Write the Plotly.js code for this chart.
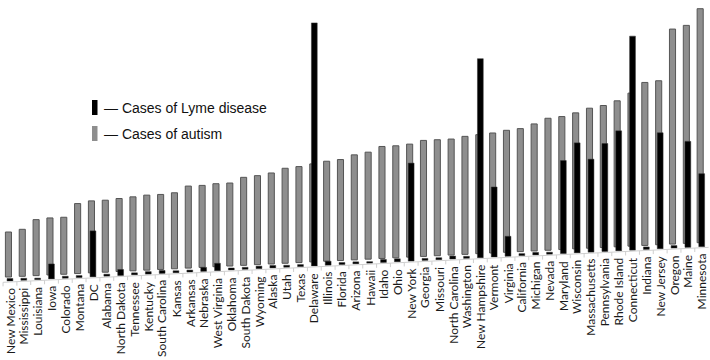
<!DOCTYPE html>
<html>
<head>
<meta charset="utf-8">
<script src="https://cdn.plot.ly/plotly-3.0.1.min.js"></script>
<style>html,body{margin:0;padding:0;background:#fff}#chart{width:710px;height:360px}</style>
</head>
<body>
<div id="chart"></div>
<script>
// States ordered by cases of autism (ascending)
const states = ["New Mexico","Mississippi","Louisiana","Iowa","Colorado","Montana","DC","Alabama","North Dakota","Tennessee","Kentucky","South Carolina","Kansas","Arkansas","Nebraska","West Virginia","Oklahoma","South Dakota","Wyoming","Alaska","Utah","Texas","Delaware","Illinois","Florida","Arizona","Hawaii","Idaho","Ohio","New York","Georgia","Missouri","North Carolina","Washington","New Hampshire","Vermont","Virginia","California","Michigan","Nevada","Maryland","Wisconsin","Massachusetts","Pennsylvania","Rhode Island","Connecticut","Indiana","New Jersey","Oregon","Maine","Minnesota"];

// Relative bar heights (no value axis in the original)
const autismCases = [45,47,56,57,57,70,72,72,73,74,75,75,76,82,82,83,83,88,89,91,95,96,98,100,101,105,107,112,112,113,116,116,116,118,119,120,122,123,127,132,133,136,140,142,146,153,163,164,215,218,234];
const lymeCases = [2.5,2,1.5,15,2,2,46,2,6,2,2.5,3,2,2,4,7.4,2,2,2.5,2.5,2,2,243,4,2,2,1.5,3,3,98,2,2,3,2,199,70,20,2,2.5,2,93,110,93,108,120,214,2.5,116,2.5,106,73];

const legendLabels = ["Cases of Lyme disease","Cases of autism"];
const colors = {lyme:"#000000", autism:"#8e8e8e", autismEdge:"#555555"};

// perspective floor (3-D look of the original): floor rises slightly to the right
const slope = 0.686;
const lymeFloor = states.map((s,i)=>79 + slope*i);
const autismFloor = states.map((s,i)=>83 + slope*i);

const W = 710, H = 360;
const px = x => x / W, py = y => 1 - y / H;

const traces = [
  {type:"bar", name:legendLabels[1], x:states, y:autismCases, base:autismFloor,
   width:0.44, offset:-0.33,
   marker:{color:colors.autism, line:{color:colors.autismEdge, width:1}}, hoverinfo:"x+y"},
  {type:"bar", name:legendLabels[0], x:states, y:lymeCases, base:lymeFloor,
   width:0.42, offset:-0.21,
   marker:{color:colors.lyme, line:{color:"#333", width:0.5}}, hoverinfo:"x+y"}
];

const shapes = [];
// floor line with ticks
shapes.push({type:"line", xref:"x", yref:"y", x0:-0.5, x1:states.length-0.5,
  y0:lymeFloor[0]-0.5*slope-1, y1:lymeFloor[states.length-1]+0.5*slope-1,
  line:{color:"#cfcfcf", width:1}});
states.forEach((s,i)=>{
  const xx = i - 0.5;
  const yy = 79 + slope*xx - 1;
  shapes.push({type:"line", xref:"x", yref:"y", x0:xx, x1:xx, y0:yy, y1:yy-4,
    line:{color:"#cfcfcf", width:1}});
});
// legend keys
shapes.push({type:"rect", xref:"paper", yref:"paper", x0:px(92), x1:px(97.5), y0:py(115), y1:py(100),
  fillcolor:colors.lyme, line:{width:0}});
shapes.push({type:"rect", xref:"paper", yref:"paper", x0:px(92), x1:px(97.5), y0:py(141), y1:py(126),
  fillcolor:colors.autism, line:{width:0}});

const annotations = states.map((s,i)=>({
  xref:"x", yref:"y", x:i, y:73 + slope*i, text:s, showarrow:false,
  textangle:-90, xanchor:"center", yanchor:"top", borderpad:0,
  font:{family:"Lato, 'Open Sans', sans-serif", size:12, color:"#1a1a1a"}
}));
annotations.push({xref:"paper", yref:"paper", x:px(102), y:py(107.5), xanchor:"left", yanchor:"middle",
  text:"— " + legendLabels[0], showarrow:false, font:{family:"'Liberation Sans', Arial, sans-serif", size:14, color:"#111"}});
annotations.push({xref:"paper", yref:"paper", x:px(102), y:py(133.5), xanchor:"left", yanchor:"middle",
  text:"— " + legendLabels[1], showarrow:false, font:{family:"'Liberation Sans', Arial, sans-serif", size:14, color:"#111"}});

const layout = {
  width:W, height:H, margin:{l:0,r:0,t:0,b:0,pad:0},
  paper_bgcolor:"#fff", plot_bgcolor:"#fff",
  barmode:"overlay", showlegend:false,
  xaxis:{type:"category", range:[-0.72, 50.6], visible:false, fixedrange:true},
  yaxis:{range:[0,360], visible:false, fixedrange:true},
  shapes:shapes, annotations:annotations
};
Plotly.newPlot("chart", traces, layout, {displayModeBar:false, staticPlot:true});
</script>
</body>
</html>
